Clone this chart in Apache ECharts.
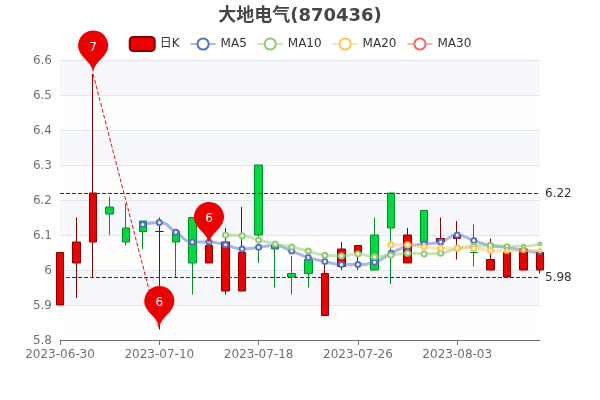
<!DOCTYPE html>
<html><head><meta charset="utf-8">
<style>html,body{margin:0;padding:0;background:#fff}#c{width:600px;height:400px}</style>
<script src="https://cdn.jsdelivr.net/npm/echarts@6/dist/echarts.min.js"></script>
</head><body><div id="c"></div>
<script>
const dates = ['2023-06-30','2023-07-03','2023-07-04','2023-07-05','2023-07-06','2023-07-07','2023-07-10','2023-07-11','2023-07-12','2023-07-13','2023-07-14','2023-07-17','2023-07-18','2023-07-19','2023-07-20','2023-07-21','2023-07-24','2023-07-25','2023-07-26','2023-07-27','2023-07-28','2023-07-31','2023-08-01','2023-08-02','2023-08-03','2023-08-04','2023-08-07','2023-08-08','2023-08-09','2023-08-10'];
const opens  = [5.90,6.02,6.08,6.18,6.12,6.14,6.11,6.11,6.15,6.02,5.94,5.94,6.30,6.07,5.99,6.03,5.87,6.01,6.05,6.10,6.22,6.02,6.17,6.08,6.09,6.05,6.00,5.98,6.00,6.00];
const closes = [6.05,6.08,6.22,6.16,6.08,6.11,6.11,6.08,6.02,6.07,6.08,6.05,6.10,6.06,5.98,5.99,5.99,6.06,6.07,6.00,6.12,6.10,6.08,6.09,6.10,6.05,6.03,6.05,6.06,6.05];
const lows   = [5.90,5.92,5.98,6.10,6.07,6.06,5.83,5.98,5.93,6.02,5.93,5.94,6.02,5.95,5.93,5.95,5.87,6.00,6.00,6.00,5.96,6.02,6.07,6.06,6.03,6.01,6.00,5.98,6.00,5.99];
const highs  = [6.05,6.15,6.56,6.21,6.19,6.14,6.15,6.11,6.15,6.07,6.12,6.18,6.30,6.08,6.04,6.04,6.02,6.08,6.07,6.15,6.22,6.12,6.17,6.15,6.14,6.13,6.09,6.07,6.07,6.05];
const ma5  = ['-','-','-','-','-',6.13,6.136,6.108,6.08,6.08,6.072,6.06,6.065,6.07,6.054,6.036,6.024,6.016,6.016,6.022,6.048,6.068,6.074,6.08,6.10,6.084,6.07,6.064,6.056,6.05];
const ma10 = ['-','-','-','-','-','-','-','-','-','-',6.10,6.098,6.086,6.074,6.066,6.054,6.042,6.04,6.046,6.038,6.042,6.048,6.046,6.048,6.062,6.068,6.07,6.068,6.068,6.074];
const ma20 = ['-','-','-','-','-','-','-','-','-','-','-','-','-','-','-','-','-','-','-','-',6.072,6.072,6.066,6.062,6.062,6.062,6.056,6.054,6.056,6.056];
const ma30 = dates.map(() => '-');
const maxPoint = ['2023-07-04', 6.56];
const minPoint = ['2023-07-10', 5.83];
const midPoint = ['2023-07-13', 6.07];
const upperLevel = 6.22, lowerLevel = 5.98;
const yTicks = {min:5.8, max:6.6, interval:0.1};

const font = "'DejaVu Sans','Noto Sans CJK SC',sans-serif";
const kData = dates.map((d,i)=>[opens[i],closes[i],lows[i],highs[i]]);
const sizeAt = (v,p)=> p.dataIndex>=28 ? 3 : p.dataIndex===27 ? 4 : 5;
const mk = (name,data,color)=>({name,type:'line',data,smooth:true,symbolSize:sizeAt,showAllSymbol:true,
  itemStyle:{color,borderWidth:2},lineStyle:{opacity:0.5,width:3,color},animation:false});
const chart = echarts.init(document.getElementById('c'),null,{renderer:'canvas'});
chart.setOption({
  animation:false,
  textStyle:{fontFamily:font},
  title:{text:'大地电气(870436)',left:'center',top:2,textStyle:{fontFamily:font,fontSize:18,fontWeight:'bold',color:'#464646'}},
  legend:{top:31,left:'center',itemGap:10,textStyle:{fontFamily:font,fontSize:12,color:'#333'},data:['日K','MA5','MA10','MA20','MA30']},
  grid:{left:60,right:60,top:60,bottom:60},
  xAxis:{type:'category',data:dates,boundaryGap:false,axisLine:{onZero:false,lineStyle:{color:'#6E7079'}},splitLine:{show:false},axisTick:{interval:5,alignWithLabel:true},axisLabel:{interval:5,margin:9,fontFamily:font,fontSize:12,color:'#6E7079'}},
  yAxis:{scale:true,min:yTicks.min,max:yTicks.max,interval:yTicks.interval,
    splitLine:{lineStyle:{color:'#E0E6F1'}},
    splitArea:{show:true,areaStyle:{color:['rgba(250,250,250,0.2)','rgba(210,219,238,0.2)']}},
    axisLabel:{fontFamily:font,fontSize:12,color:'#6E7079',formatter:'{n|{value}}',
      rich:{n:{fontFamily:font,fontSize:12,color:'#6E7079',padding:[2,0,0,0]}}}},
  series:[
    {name:'日K',type:'candlestick',data:kData,barWidth:8,
     itemStyle:{color:'#ec0000',color0:'#00da3c',borderColor:'#8A0000',borderColor0:'#008F28'},
     markPoint:{symbol:'pin',symbolSize:50,itemStyle:{color:'#ec0000'},
       label:{formatter:p=>String(Math.round(p.value)),color:'#fff',fontFamily:font,fontSize:12},
       data:[
        {coord:maxPoint,value:maxPoint[1]},
        {coord:minPoint,value:minPoint[1]},
        {coord:midPoint,value:midPoint[1]}]},
     markLine:{symbol:['none','none'],animation:false,
       label:{color:'#333',fontFamily:font,fontSize:12,offset:[0,1]},
       data:[
        {yAxis:upperLevel,lineStyle:{color:'#b00000',type:'dashed',width:1}},
        {yAxis:lowerLevel,lineStyle:{color:'#b00000',type:'dashed',width:1}},
        [{coord:maxPoint,lineStyle:{color:'#e01010',type:'dashed',width:1},label:{show:false}},{coord:minPoint}]
       ]}
    },
    mk('MA5',ma5,'#5470c6'),mk('MA10',ma10,'#91cc75'),mk('MA20',ma20,'#fac858'),mk('MA30',ma30,'#ee6666')
  ]
});
</script></body></html>
